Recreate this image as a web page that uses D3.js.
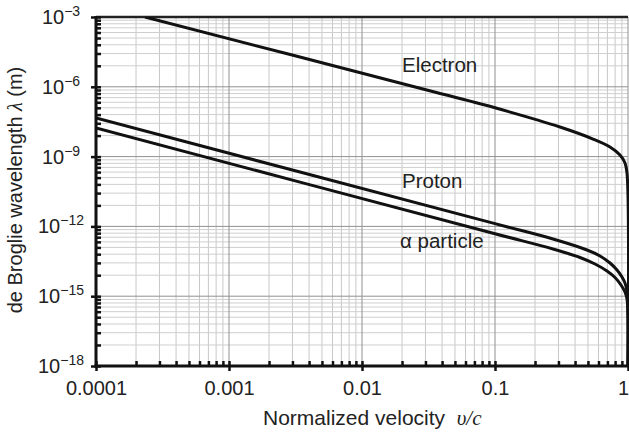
<!DOCTYPE html>
<html><head><meta charset="utf-8">
<script src="https://cdn.jsdelivr.net/npm/d3@7"></script>
<style>body{margin:0;background:#fff}svg{display:block}</style>
</head><body>
<svg id="c" width="629" height="436"></svg>
<script>
// ---- data ----
const xMajorTicks = [1e-4, 1e-3, 1e-2, 1e-1, 1];
const xTickLabels = ["0.0001", "0.001", "0.01", "0.1", "1"];
const yTickExponents = [-3, -6, -9, -12, -15, -18];

const electronV = [2.335e-4, 0.0273, 0.1, 0.3081, 0.5455, 0.7322, 0.8706, 0.9493, 0.9829, 1];
const electronL = [1e-3, 8.71e-7, 1.25e-7, 1.87e-8, 5.70e-9, 2.59e-9, 1.17e-9, 5.31e-10, 1.97e-10, 1e-18];

const protonV = [1e-4, 0.1, 0.2730, 0.4917, 0.6161, 0.7322, 0.8267, 0.9013, 0.9493, 0.9829, 1];
const protonL = [4.56e-8, 1.31e-12, 2.87e-13, 9.68e-14, 5.35e-14, 2.67e-14, 1.34e-14, 6.69e-15, 3.69e-15, 1.67e-15, 1e-18];

const alphaV = [1e-4, 0.1, 0.2730, 0.4356, 0.5648, 0.6951, 0.7985, 0.8859, 0.9493, 0.9829, 1];
const alphaL = [1.69e-8, 4.85e-13, 1.07e-13, 4.60e-14, 2.42e-14, 1.21e-14, 6.37e-15, 3.03e-15, 1.51e-15, 7.58e-16, 1e-18];

const seriesNames = ["Electron", "Proton", "\u03B1 particle"];

// ---- chart ----
const svg = d3.select("#c");
const x = d3.scaleLog().domain([1e-4, 1]).range([96, 628]);
const y = d3.scaleLog().domain([1e-18, 1e-3]).range([366, 17]);

// minor ticks
const xMinor = [];
xMajorTicks.slice(0, -1).forEach(d => { for (let m = 2; m <= 9; m++) xMinor.push(d * m); });
const yMajor = yTickExponents.map(e => Math.pow(10, e));
const yMinor = [];
yTickExponents.filter(e => e > -18).forEach(e => {
  const base = Math.pow(10, e - 3);
  for (let m = 2; m <= 9; m++) yMinor.push(base * m * m * m);
});

const grid = svg.append("g");
grid.selectAll(".vx").data(xMinor).join("line")
  .attr("x1", d => x(d)).attr("x2", d => x(d)).attr("y1", 17).attr("y2", 366)
  .attr("stroke", "#c8c8c8").attr("stroke-width", 1);
grid.selectAll(".hy").data(yMinor).join("line")
  .attr("y1", d => y(d)).attr("y2", d => y(d)).attr("x1", 96).attr("x2", 628)
  .attr("stroke", "#cfcfcf").attr("stroke-width", 1);
grid.selectAll(".vX").data(xMajorTicks).join("line")
  .attr("x1", d => x(d)).attr("x2", d => x(d)).attr("y1", 17).attr("y2", 366)
  .attr("stroke", "#909090").attr("stroke-width", 1);
grid.selectAll(".hY").data(yMajor).join("line")
  .attr("y1", d => y(d)).attr("y2", d => y(d)).attr("x1", 96).attr("x2", 628)
  .attr("stroke", "#909090").attr("stroke-width", 1);

// top border
svg.append("line").attr("x1", 96).attr("x2", 628).attr("y1", 17).attr("y2", 17)
  .attr("stroke", "#222").attr("stroke-width", 2.5);

// curves
svg.append("clipPath").attr("id", "clip").append("rect")
  .attr("x", 96).attr("y", 17).attr("width", 534).attr("height", 349);
const line = d3.line().x(d => x(d[0])).y(d => y(d[1])).curve(d3.curveCatmullRom.alpha(0.5));
const series = [
  d3.zip(electronV, electronL),
  d3.zip(protonV, protonL),
  d3.zip(alphaV, alphaL)
];
svg.append("g").attr("clip-path", "url(#clip)")
  .selectAll("path").data(series).join("path")
  .attr("d", line).attr("fill", "none").attr("stroke", "#111")
  .attr("stroke-width", 3).attr("stroke-linejoin", "round");

// axes
const xAxisMinor = d3.axisBottom(x).tickValues(xMinor).tickSize(-5).tickFormat("");
const gxm = svg.append("g").attr("transform", "translate(0,366)").call(xAxisMinor);
const xAxis = d3.axisBottom(x).tickValues(xMajorTicks).tickSize(5)
  .tickFormat((d, i) => xTickLabels[i]).tickPadding(10);
const gx = svg.append("g").attr("transform", "translate(0,366)").call(xAxis);
gx.selectAll(".tick line").attr("y1", -5);
[gx, gxm].forEach(g => {
  g.select(".domain").remove();
  g.selectAll(".tick line").attr("stroke", "#111").attr("stroke-width", 2.5);
});
gx.selectAll(".tick text").attr("font-family", "Liberation Sans, Arial, sans-serif")
  .attr("font-size", 20).attr("fill", "#222")
  .attr("dx", (d, i) => i === xMajorTicks.length - 1 ? -5 : 0);

const yAxisMinor = d3.axisLeft(y).tickValues(yMinor).tickSize(-5).tickFormat("");
const gym = svg.append("g").attr("transform", "translate(96,0)").call(yAxisMinor);
const yAxis = d3.axisLeft(y).tickValues(yMajor).tickSize(5).tickFormat("");
const gy = svg.append("g").attr("transform", "translate(96,0)").call(yAxis);
gy.selectAll(".tick line").attr("x1", 5);
[gy, gym].forEach(g => {
  g.select(".domain").remove();
  g.selectAll(".tick line").attr("stroke", "#111").attr("stroke-width", 2.5);
});
// y tick labels 10^e
const ylab = svg.append("g").selectAll("text").data(yTickExponents).join("text")
  .attr("x", 61).attr("y", e => y(Math.pow(10, e)) + 7)
  .attr("text-anchor", "middle")
  .attr("font-family", "Liberation Sans, Arial, sans-serif").attr("font-size", 20).attr("fill", "#222");
ylab.append("tspan").text("10");
ylab.append("tspan").attr("dy", -8).attr("font-size", 14).text(e => "\u2212" + Math.abs(e));

// axis lines
svg.append("line").attr("x1", 96).attr("x2", 96).attr("y1", 16).attr("y2", 367.5)
  .attr("stroke", "#111").attr("stroke-width", 3);
svg.append("line").attr("x1", 94.5).attr("x2", 629).attr("y1", 366).attr("y2", 366)
  .attr("stroke", "#111").attr("stroke-width", 3);

// series labels
const labelPos = [[402, 72], [402, 188], [400, 248]];
svg.append("g").selectAll("text").data(seriesNames).join("text")
  .attr("x", (d, i) => labelPos[i][0]).attr("y", (d, i) => labelPos[i][1])
  .attr("font-family", "Liberation Sans, Arial, sans-serif").attr("font-size", 20.5).attr("fill", "#222")
  .text(d => d);

// axis titles
const xt = svg.append("text").attr("x", 263).attr("y", 425)
  .attr("font-family", "Liberation Sans, Arial, sans-serif").attr("font-size", 21).attr("fill", "#222");
xt.append("tspan").text("Normalized velocity\u00A0\u00A0");
xt.append("tspan").attr("font-family", "Liberation Serif, Times New Roman, serif").attr("font-style", "italic").text("\u03C5/c");

const yt = svg.append("text").attr("transform", "translate(22,190) rotate(-90)")
  .attr("text-anchor", "middle")
  .attr("font-family", "Liberation Sans, Arial, sans-serif").attr("font-size", 20).attr("fill", "#222");
yt.append("tspan").text("de Broglie wavelength ");
yt.append("tspan").attr("font-family", "Liberation Serif, Times New Roman, serif").attr("font-style", "italic").text("\u03BB");
yt.append("tspan").text(" (m)");
</script>
</body></html>
